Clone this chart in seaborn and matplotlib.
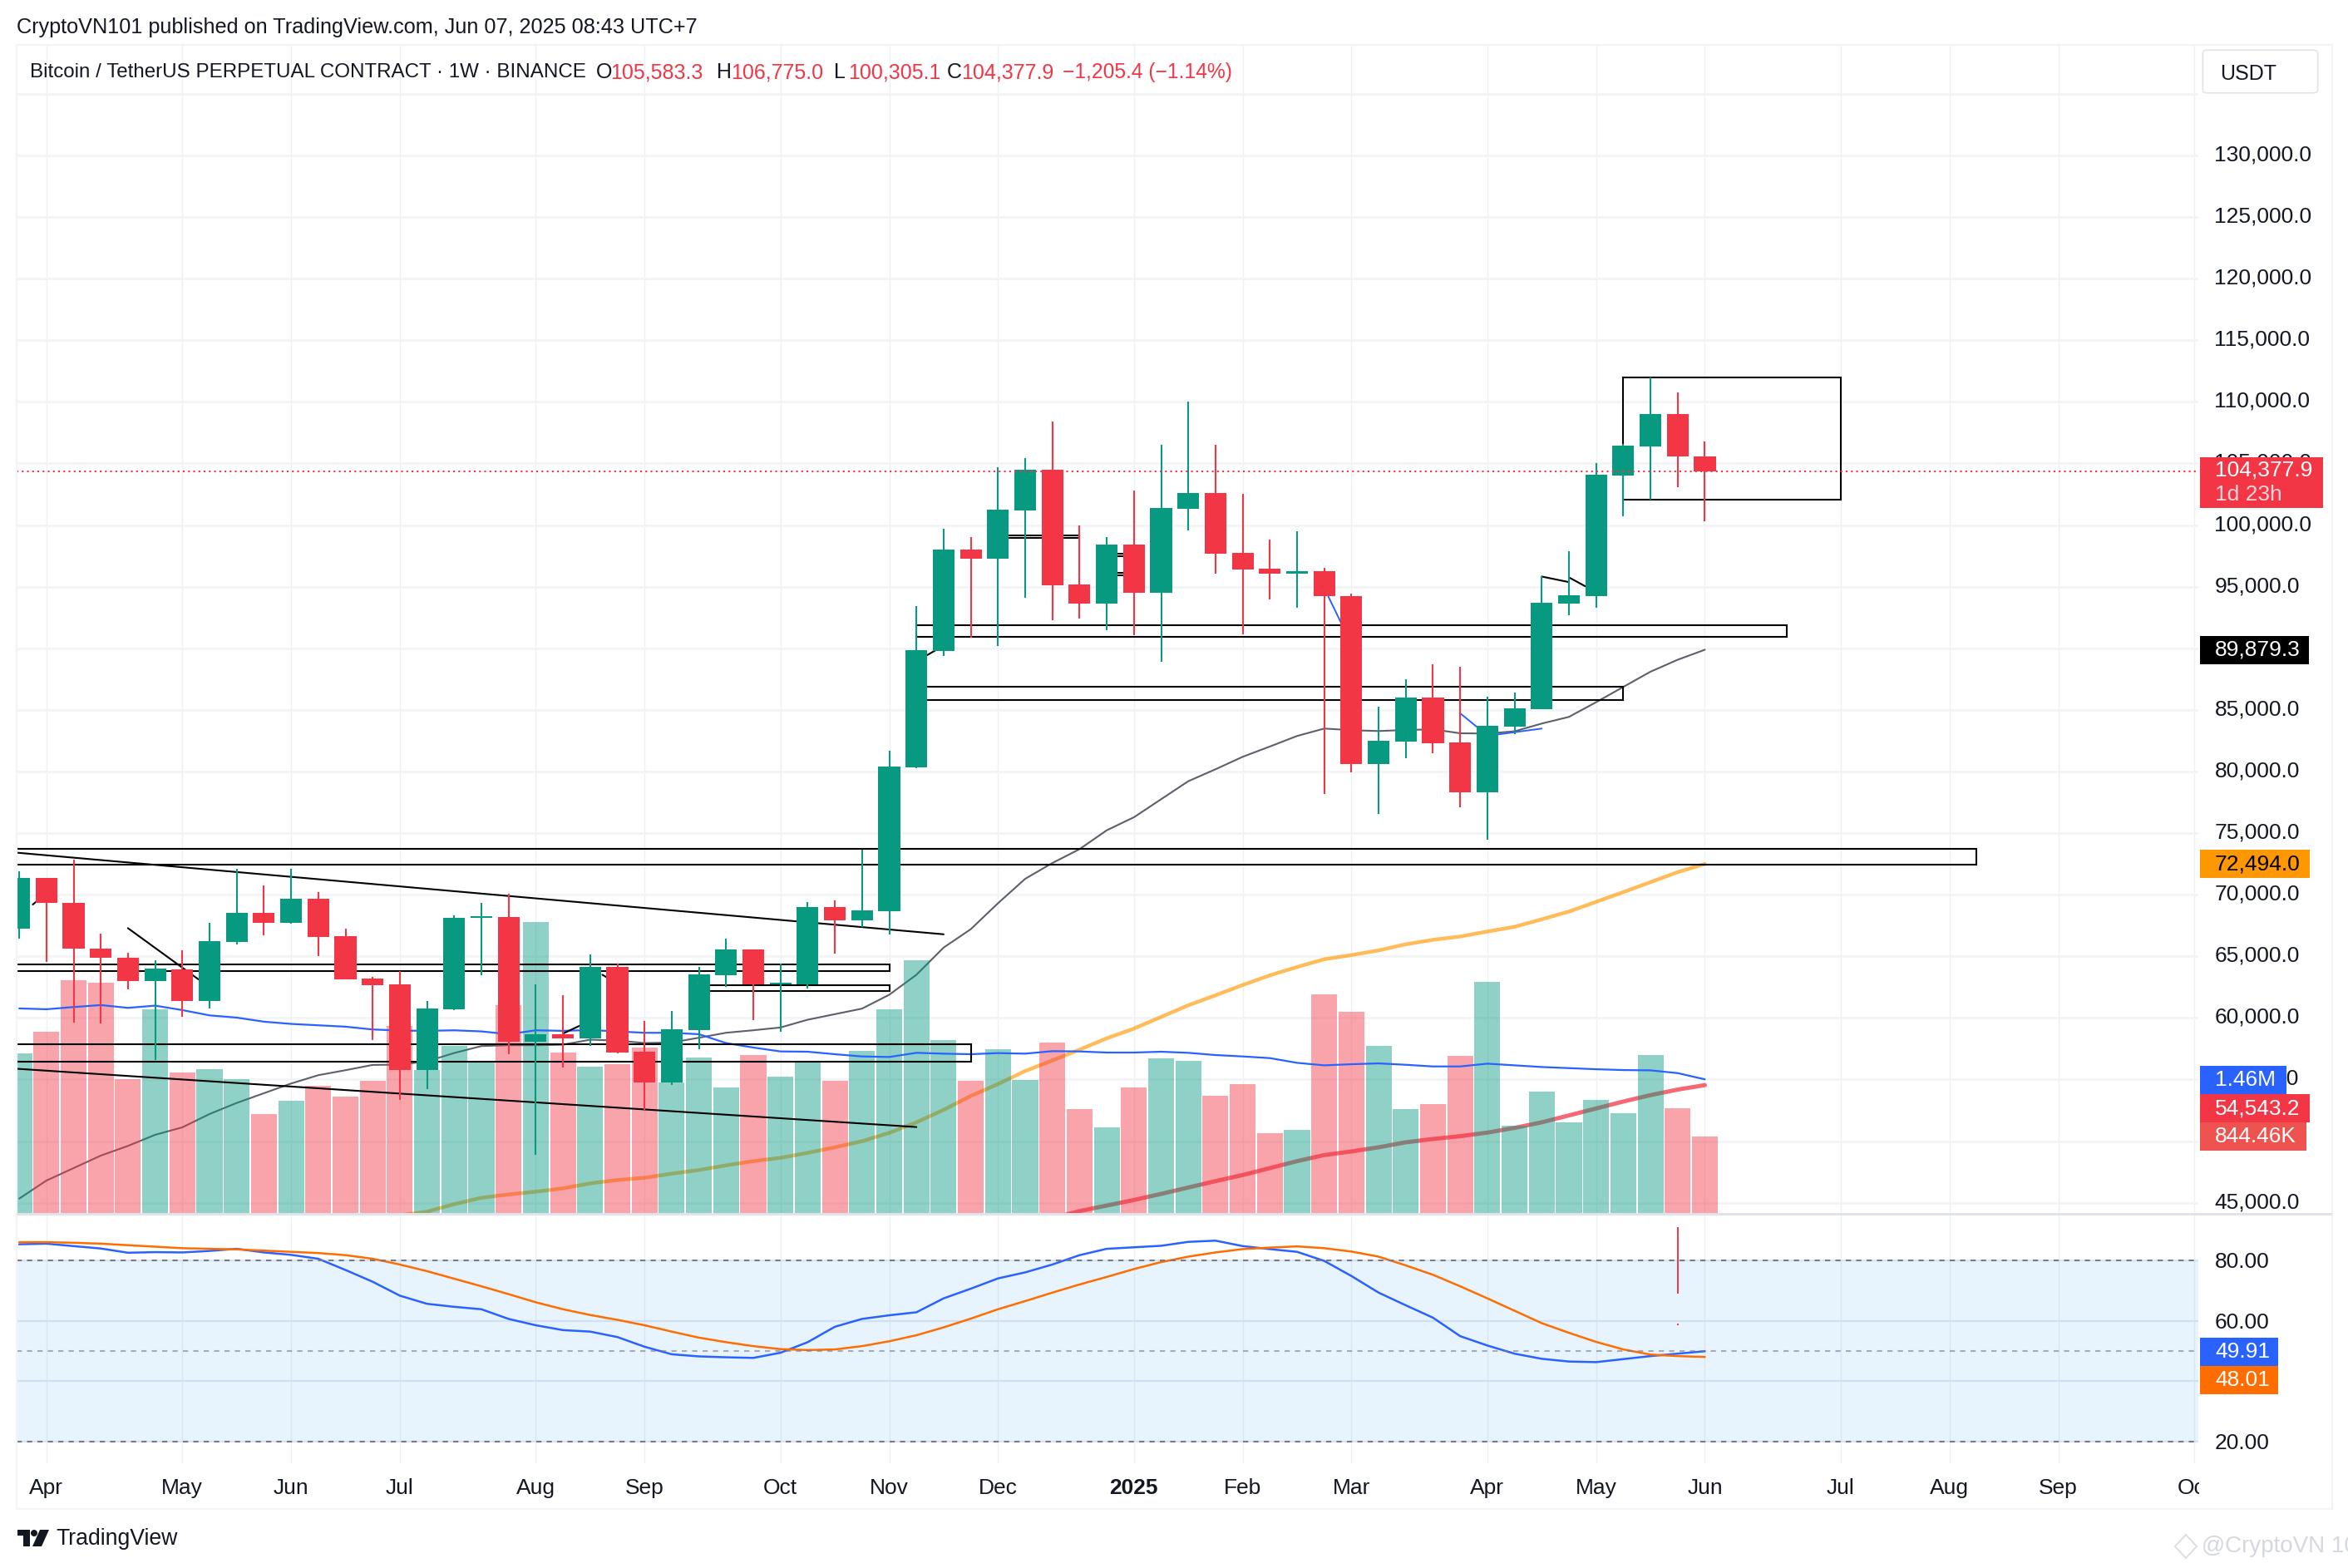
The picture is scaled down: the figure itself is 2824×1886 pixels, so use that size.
"""Weekly BTC/USDT perpetual chart in the TradingView look, volume and RSI panes included."""

import matplotlib.pyplot as plt
import numpy as np
import pandas as pd
import seaborn as sns
from matplotlib.patches import Circle, FancyBboxPatch, Polygon, Rectangle
from matplotlib.transforms import ScaledTranslation

W, H = 2824, 1886
GREEN = "#089981"
RED = "#F23645"
BLUE = "#2962FF"
GRID = "#F2F4F6"
GRID_V = "#EDF0F4"
TEXT = "#131722"

# weekly candles, first bar is the one before the Apr 2024 tick
opens = [67212, 71377, 69351, 65637, 64894, 63003, 63948, 61382, 66177, 68541, 67730, 69689, 66650,
         63206, 62733, 55777, 60707, 68135, 68203, 58073, 58681, 58343, 64151, 57263, 54764, 59019,
         63476, 65569, 62733, 62733, 69013, 67933, 68676, 80354, 89808, 97979, 97237, 101153, 104462,
         95143, 93657, 98385, 94468, 101288, 102571, 97709, 96426, 96021, 96224, 94198, 80624, 82447,
         86027, 82380, 78328, 83663, 85080, 93657, 94198, 103990, 106353, 108987, 105583.3]
highs = [71917, 71377, 72862, 66852, 65254, 64691, 65502, 67730, 72120, 70769, 72120, 70229, 67257,
         63341, 63813, 61382, 68338, 69351, 70094, 62733, 61855, 65164, 64421, 59761, 60572, 64151,
         66447, 65569, 64421, 69419, 69553, 73673, 81704, 93455, 99668, 98992, 104665, 105408, 108379,
         99938, 98992, 102774, 106488, 110000, 106488, 102504, 98790, 99465, 96494, 94400, 85284,
         87512, 88727, 88525, 86094, 86432, 95818, 97844, 105003, 106556, 111980, 110740, 106775.0]
lows = [66447, 64511, 59627, 59559, 62328, 56587, 60099, 60774, 65974, 66717, 67663, 65029, 63138,
        58208, 53346, 54224, 60639, 63476, 57060, 48889, 55980, 57736, 57128, 52536, 54562, 57466,
        62530, 59829, 58884, 62395, 65231, 67392, 66785, 80286, 89403, 90889, 90213, 94063, 92307,
        92442, 91496, 91091, 88930, 99533, 96021, 91158, 93995, 93320, 78193, 79949, 76572, 81097,
        81502, 77112, 74483, 83055, 85080, 92712, 93320, 100681, 102031, 103044, 100305.1]
closes = [71377, 69306, 65592, 64849, 63003, 64016, 61382, 66244, 68541, 67730, 69689, 66582, 63138,
          62665, 55777, 60774, 68135, 68270, 58073, 58681, 58343, 64151, 57195, 54764, 59086, 63543,
          65569, 62733, 62868, 69013, 67933, 68743, 80422, 89875, 97979, 97237, 101221, 104462, 95076,
          93657, 98385, 94468, 101356, 102571, 97642, 96358, 96021, 96224, 94198, 80624, 82515, 86027,
          82312, 78328, 83730, 85148, 93725, 94265, 104057, 106421, 108987, 105543, 104377.9]

# volume in millions, then its moving average
volume = [1.743, 1.977, 2.525, 2.498, 1.465, 2.219, 1.536, 1.572, 1.465, 1.087, 1.231, 1.393, 1.276,
          1.447, 2.040, 1.557, 1.824, 1.662, 2.264, 3.154, 1.752, 1.599, 1.626, 1.806, 1.423, 1.698,
          1.375, 1.725, 1.492, 1.638, 1.447, 1.770, 2.219, 2.749, 1.887, 1.447, 1.788, 1.456, 1.860,
          1.141, 0.943, 1.375, 1.689, 1.662, 1.285, 1.411, 0.881, 0.916, 2.381, 2.192, 1.824, 1.141,
          1.195, 1.716, 2.507, 0.961, 1.330, 0.997, 1.240, 1.096, 1.725, 1.150, 0.84446]
volume_ma = [2.225, 2.216, 2.240, 2.261, 2.231, 2.255, 2.207, 2.150, 2.126, 2.082, 2.058, 2.043, 2.028,
             1.998, 1.986, 1.983, 1.989, 1.977, 1.947, 1.989, 1.983, 1.992, 1.977, 1.962, 1.962, 1.947,
             1.851, 1.803, 1.761, 1.758, 1.731, 1.707, 1.701, 1.746, 1.737, 1.731, 1.743, 1.737, 1.764,
             1.761, 1.749, 1.749, 1.758, 1.746, 1.722, 1.707, 1.689, 1.638, 1.611, 1.623, 1.632, 1.617,
             1.599, 1.599, 1.629, 1.611, 1.593, 1.581, 1.569, 1.560, 1.557, 1.527, 1.46]

# price moving averages
ma_gray = [45333, 46796, 47809, 48822, 49610, 50510, 51117, 52198, 53098, 53886, 54674, 55349, 55754,
           56182, 56205, 56475, 57150, 57713, 57781, 57781, 57826, 58230, 58163, 57960, 58006, 58388,
           58793, 58996, 59221, 59851, 60302, 60752, 61878, 63500, 65705, 67200, 69305, 71286, 72569,
           73694, 75225, 76283, 77746, 79209, 80177, 81190, 82023, 82878, 83483, 83348, 83280, 83370,
           83415, 83100, 83078, 83258, 83888, 84428, 85621, 86860, 88097, 89066, 89879.3]
ma_orange_start = 13
ma_orange = [43981, 44275, 44882, 45400, 45670, 45895, 46165, 46570, 46840, 47021, 47358, 47651, 48034,
             48372, 48642, 49047, 49497, 49992, 50668, 51523, 52536, 53662, 54630, 55688, 56543, 57421,
             58344, 59132, 60077, 61023, 61833, 62666, 63454, 64129, 64759, 65097, 65480, 65975, 66335,
             66605, 67010, 67393, 68001, 68631, 69419, 70207, 71017, 71827, 72494.0]
ma_red_start = 37
ma_red = [43758, 44320, 44770, 45221, 45716, 46233, 46751, 47247, 47809, 48372, 48867, 49160, 49498,
          49902, 50173, 50398, 50690, 51073, 51523, 52086, 52649, 53212, 53730, 54180, 54543.2]

rsi = [85.3, 85.5, 84.7, 83.9, 82.5, 82.7, 82.6, 83.1, 83.8, 82.6, 81.8, 80.5, 76.8, 72.9, 68.3, 65.6,
       64.6, 63.8, 60.6, 58.5, 56.9, 56.4, 54.6, 51.4, 48.9, 48.2, 47.9, 47.7, 49.4, 52.9, 58.0, 60.6,
       61.8, 62.8, 67.4, 70.6, 74.0, 76.0, 78.6, 81.7, 83.8, 84.3, 84.8, 86.1, 86.5, 84.7, 83.7, 82.8,
       79.8, 74.8, 69.3, 65.1, 61.0, 54.9, 51.8, 49.1, 47.4, 46.5, 46.3, 47.3, 48.3, 49.1, 49.91]
rsi_ma = [86.0, 86.0, 85.8, 85.5, 85.0, 84.5, 84.0, 83.8, 83.6, 83.2, 82.8, 82.4, 81.7, 80.5, 78.6, 76.4,
          73.9, 71.4, 68.8, 66.1, 63.8, 61.9, 60.3, 58.5, 56.4, 54.4, 52.9, 51.6, 50.6, 50.3, 50.5, 51.6,
          53.2, 55.2, 57.8, 60.7, 63.8, 66.5, 69.3, 72.0, 74.5, 77.1, 79.4, 81.2, 82.6, 83.7, 84.2, 84.6,
          84.0, 82.9, 81.2, 78.3, 75.2, 71.4, 67.4, 63.3, 59.2, 56.0, 53.0, 50.5, 48.8, 48.3, 48.01]

# month ticks sit on bar numbers
tick_bars = [0, 5, 9, 13, 18, 22, 27, 31, 35, 40, 44, 48, 53, 57, 61, 66, 70, 74, 79]
tick_names = ["Apr", "May", "Jun", "Jul", "Aug", "Sep", "Oct", "Nov", "Dec", "2025", "Feb", "Mar",
              "Apr", "May", "Jun", "Jul", "Aug", "Sep", "Oct"]
price_ticks = list(range(45000, 135000, 5000))
rsi_ticks = [20, 40, 60, 80]

# hand drawn zones on the chart: left bar, right bar, top price, bottom price
box_left = [58, 32, 32, -3, -3, 24, -3, 35, 39, 39]
box_right = [66, 64, 58, 71, 31, 31, 34, 38, 40, 40]
box_top = [112000, 91836, 86860, 73696, 64309, 62620, 57894, 99127, 97650, 96100]
box_bottom = [102046, 90933, 85824, 72458, 63768, 62148, 56453, 98947, 97500, 95950]

# hand drawn trend lines, as pairs of (bar, price)
black_lines = [
    ([-1.06, 33], [73403, 66785]),
    ([-1.06, 32], [55867, 51141]),
    ([-0.5, -0.38], [69200, 69420]),
    ([3, 5.6], [67280, 63115]),
    ([19, 19.65], [58725, 59400]),
    ([20.45, 20.6], [63500, 63300]),
    ([32.4, 32.7], [89448, 89830]),
    ([55, 56], [95818, 95368]),
    ([56, 56.6], [95751, 95031]),
]
blue_lines = [([47.15, 47.6], [94198, 92149]), ([52, 52.6], [84721, 83640]), ([53.4, 55], [83007, 83483])]

bars = np.arange(-1, len(closes) - 1)
candles = pd.DataFrame({"bar": bars, "open": opens, "high": highs, "low": lows, "close": closes, "volume": volume})
candles["side"] = np.where(candles["close"] >= candles["open"], "up", "down")
palette = {"up": GREEN, "down": RED}


def fx(x):
    return x / W


def fy(y):
    return 1 - y / H


def axes_rect(left, top, right, bottom):
    return [fx(left), fy(bottom), fx(right) - fx(left), fy(top) - fy(bottom)]


def add_label(fig, x, y, text, size=19, color=TEXT, **kwargs):
    fig.text(fx(x), fy(y), text, fontsize=size, color=color, va="center", ha=kwargs.pop("ha", "left"), zorder=20, **kwargs)


def add_tag(fig, left, top, right, bottom, color):
    fig.add_artist(Rectangle((fx(left), fy(bottom)), fx(right) - fx(left), fy(top) - fy(bottom),
                             transform=fig.transFigure, facecolor=color, edgecolor="none", zorder=15))


sns.set_theme(style="white")
plt.rcParams["font.family"] = ["Liberation Sans", "DejaVu Sans"]

fig = plt.figure(figsize=(W / 100, H / 100), dpi=100, facecolor="white")
ax_price = fig.add_axes(axes_rect(20, 54, 2644, 1461), zorder=1)
ax_vol = ax_price.twinx()
ax_top = ax_price.twinx()
ax_rsi = fig.add_axes(axes_rect(20, 1461, 2644, 1760), zorder=1)
ax_vol.set_zorder(2)
ax_top.set_zorder(3)
ax_vol.patch.set_visible(False)
ax_top.patch.set_visible(False)

# moving averages sit under the volume bars
sns.lineplot(x=bars, y=ma_gray, ax=ax_price, color="#5D606B", linewidth=1.5, errorbar=None)
sns.lineplot(x=np.arange(ma_orange_start, ma_orange_start + len(ma_orange)), y=ma_orange, ax=ax_price,
             color="#FF9800", alpha=0.65, linewidth=3.2, errorbar=None)
sns.lineplot(x=np.arange(ma_red_start, ma_red_start + len(ma_red)), y=ma_red, ax=ax_price,
             color="#F23645", alpha=0.75, linewidth=3.6, errorbar=None)

sns.barplot(data=candles, x="bar", y="volume", hue="side", palette=palette, ax=ax_vol, native_scale=True,
            dodge=False, width=0.95, saturation=1, alpha=0.45, linewidth=0, legend=False, errorbar=None)
sns.lineplot(x=bars, y=volume_ma, ax=ax_vol, color=BLUE, linewidth=1.6, errorbar=None)

for left, right, top, bottom in zip(box_left, box_right, box_top, box_bottom):
    ax_top.add_patch(Rectangle((left, bottom), right - left, top - bottom, fill=False, edgecolor="black",
                               linewidth=1.5, zorder=1))
for xs, ys in black_lines:
    ax_top.plot(xs, ys, color="black", linewidth=1.5, zorder=1)
for xs, ys in blue_lines:
    ax_top.plot(xs, ys, color=BLUE, linewidth=1.4, zorder=1)

candle_colors = candles["side"].map(palette)
ax_top.vlines(candles["bar"], candles["low"], candles["high"], colors=candle_colors, linewidth=1.5, zorder=3)
ax_top.bar(candles["bar"], (candles["close"] - candles["open"]).abs(),
           bottom=candles[["open", "close"]].min(axis=1), width=0.8, color=candle_colors, linewidth=0, zorder=4)
ax_top.axhline(closes[-1], color=RED, linewidth=1.5, linestyle=(0, (1, 2)), zorder=5)

# limits follow from the pane size in pixels
xlim = (-1.095, 79.15)
for ax in (ax_price, ax_top):
    ax.set_ylim(44030, 138967)
ax_vol.set_ylim(0, 12.62)
for ax in (ax_price, ax_vol, ax_top, ax_rsi):
    ax.set_xlim(*xlim)
    ax.set_xlabel("")
    ax.set_ylabel("")
    for spine in ax.spines.values():
        spine.set_visible(False)

for ax in (ax_vol, ax_top):
    ax.set_yticks([])
    ax.set_xticks([])

ax_price.set_xticks(tick_bars)
ax_price.tick_params(axis="x", bottom=False, labelbottom=False)
ax_price.set_yticks(price_ticks + [135000])
ax_price.set_yticklabels([f"{p:,.1f}" for p in price_ticks] + [""])
ax_price.yaxis.tick_right()
ax_price.tick_params(axis="y", right=False, left=False, labelleft=False, labelright=True, pad=8,
                     labelsize=19, labelcolor=TEXT)
# price labels sit a little above their grid lines
nudge_up = ScaledTranslation(0, 3 / 100, fig.dpi_scale_trans)
for lbl in ax_price.get_yticklabels():
    lbl.set_transform(lbl.get_transform() + nudge_up)
ax_price.grid(True, axis="y", color=GRID, linewidth=2)
ax_price.grid(True, axis="x", color=GRID_V, linewidth=1)

# RSI pane
ax_rsi.axhspan(20, 80, color="#2196F3", alpha=0.1, linewidth=0)
sns.lineplot(x=bars, y=rsi, ax=ax_rsi, color=BLUE, linewidth=1.8, errorbar=None)
sns.lineplot(x=bars, y=rsi_ma, ax=ax_rsi, color="#FF6D00", linewidth=1.8, errorbar=None)
ax_rsi.axhline(80, color="#787B86", linewidth=1.5, linestyle=(0, (3, 3)))
ax_rsi.axhline(50, color="#787B86", alpha=0.6, linewidth=1.5, linestyle=(0, (3, 3)))
ax_rsi.axhline(20, color="#787B86", linewidth=1.5, linestyle=(0, (3, 3)))
ax_rsi.vlines(60, 69, 91, color=RED, linewidth=1.4)
ax_rsi.vlines(60, 58.5, 59, color=RED, linewidth=1.4)
ax_rsi.set_ylim(12.84, 95.1)
ax_rsi.set_xlim(*xlim)
ax_rsi.set_xticks(tick_bars)
ax_rsi.set_xticklabels(tick_names)
ax_rsi.tick_params(axis="x", bottom=False, pad=7, labelsize=19, labelcolor=TEXT)
ax_rsi.get_xticklabels()[9].set_fontweight("bold")
ax_rsi.set_yticks(rsi_ticks)
ax_rsi.set_yticklabels([f"{r:.2f}" for r in rsi_ticks])
ax_rsi.yaxis.tick_right()
ax_rsi.tick_params(axis="y", right=False, left=False, labelleft=False, labelright=True, pad=8,
                   labelsize=19, labelcolor=TEXT)
ax_rsi.grid(True, axis="x", color=GRID_V, linewidth=1)
ax_rsi.grid(True, axis="y", color="#E2E9F2", linewidth=1.6)

# frame and the separator between price and RSI panes
fig.add_artist(Rectangle((fx(20), fy(1815)), fx(2805) - fx(20), fy(54) - fy(1815), transform=fig.transFigure,
                         fill=False, edgecolor=GRID, linewidth=1.6, zorder=12))
fig.add_artist(Rectangle((fx(20), fy(1462)), fx(2805) - fx(20), fy(1459) - fy(1462), transform=fig.transFigure,
                         facecolor="#E0E3EB", edgecolor="none", zorder=12))
# the Oct label is cut by the price scale
add_tag(fig, 2645, 1762, 2804, 1813, "white")

# header
add_label(fig, 20, 33, "CryptoVN101 published on TradingView.com, Jun 07, 2025 08:43 UTC+7", size=18.2)
add_label(fig, 36, 87, "Bitcoin / TetherUS PERPETUAL CONTRACT · 1W · BINANCE", size=17.4)
for x, letter, value in zip((717, 862, 1003, 1139), "OHLC", ("105,583.3", "106,775.0", "100,305.1", "104,377.9")):
    add_label(fig, x, 87, letter, size=18)
    add_label(fig, x + 17, 87, value, size=18, color=RED)
add_label(fig, 1278, 87, "−1,205.4 (−1.14%)", size=17.7, color=RED)

# currency button
fig.add_artist(FancyBboxPatch((fx(2655), fy(108)), fx(2782) - fx(2655), fy(64) - fy(108), transform=fig.transFigure,
                              boxstyle="round,pad=0.002", facecolor="white", edgecolor="#E0E3EB", linewidth=1.2, zorder=15))
add_label(fig, 2670, 89, "USDT", size=18)

# value tags on the price scale
add_tag(fig, 2646, 550, 2794, 611, RED)
add_label(fig, 2664, 566, "104,377.9", color="white")
add_label(fig, 2664, 595, "1d 23h", color="#FDD5D9")
add_tag(fig, 2646, 765, 2777, 799, "black")
add_label(fig, 2664, 782, "89,879.3", color="white")
add_tag(fig, 2646, 1022, 2778, 1056, "#FF9800")
add_label(fig, 2664, 1039, "72,494.0", color="black")
add_tag(fig, 2646, 1282, 2750, 1316, BLUE)
add_label(fig, 2664, 1299, "1.46M", color="white")
add_tag(fig, 2646, 1316, 2778, 1350, RED)
add_label(fig, 2664, 1333, "54,543.2", color="white")
add_tag(fig, 2646, 1350, 2774, 1384, "#EF5350")
add_label(fig, 2664, 1367, "844.46K", color="white")
add_tag(fig, 2646, 1609, 2740, 1643, BLUE)
add_label(fig, 2664, 1626, "49.91", color="white")
add_tag(fig, 2646, 1643, 2740, 1677, "#FF6D00")
add_label(fig, 2664, 1660, "48.01", color="white")

# TradingView logo
logo_rects = [(21, 1840, 36, 1847), (28, 1840, 36, 1860)]
for left, top, right, bottom in logo_rects:
    add_tag(fig, left, top, right, bottom, TEXT)
fig.add_artist(Circle((41, H - 1844), 4, transform=None, facecolor=TEXT, edgecolor="none", zorder=15))
fig.add_artist(Polygon([(fx(48), fy(1840)), (fx(59), fy(1840)), (fx(50), fy(1860)), (fx(39), fy(1860))],
                       transform=fig.transFigure, facecolor=TEXT, edgecolor="none", zorder=15))
add_label(fig, 67, 1851, "TradingView", size=19.2, fontweight="medium")

# watermark, cut at the image edge
fig.add_artist(Polygon([(fx(2616), fy(1860)), (fx(2629), fy(1846)), (fx(2642), fy(1860)), (fx(2629), fy(1874))],
                       transform=fig.transFigure, fill=False, edgecolor="#DDE0E5", linewidth=1.5, zorder=15))
add_label(fig, 2648, 1860, "@CryptoVN 101", size=20, color="#D5D8DE")

fig.savefig("out.png", dpi=100)
